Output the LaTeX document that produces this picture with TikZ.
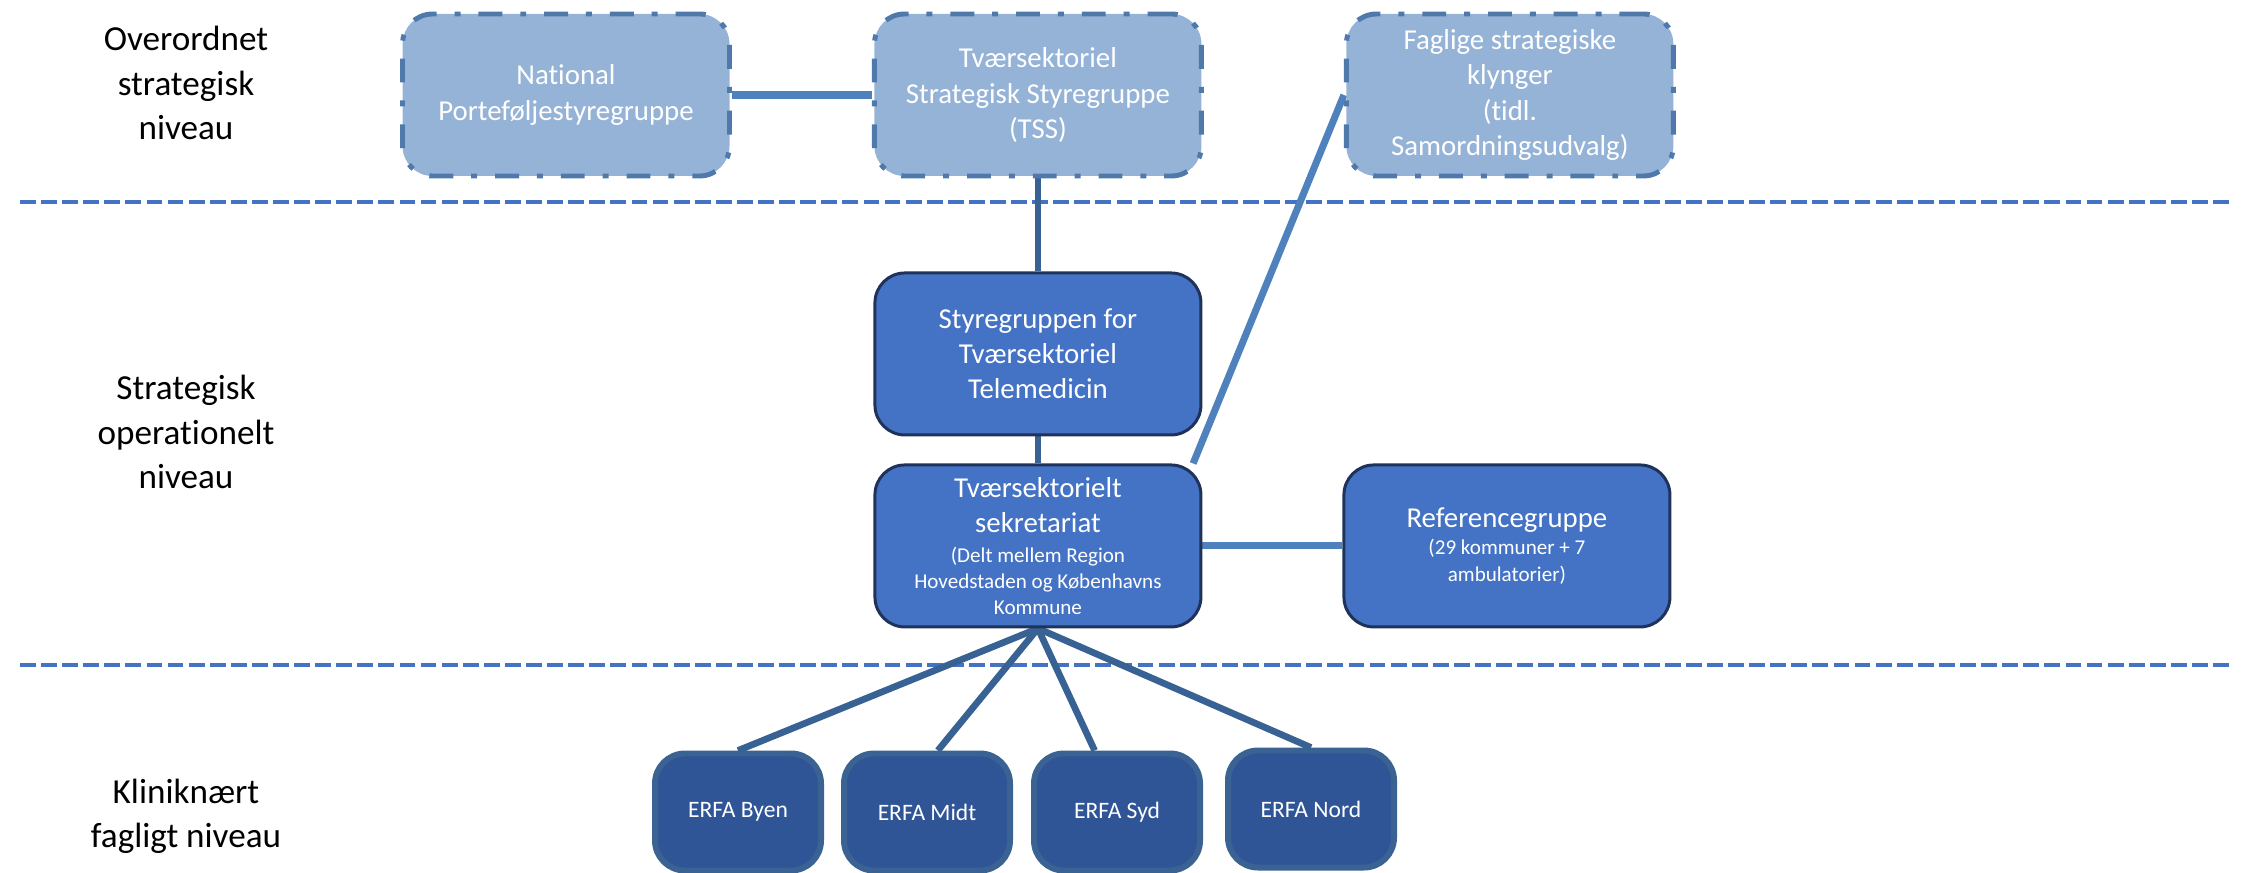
\documentclass[tikz,border=0pt]{standalone}
\usepackage{fontspec}
\setmainfont{Carlito}[Ligatures=NoCommon]
\usepackage{tikz}
\usetikzlibrary{positioning, calc, backgrounds}
\definecolor{skilleblaa}{RGB}{68,114,196}
\definecolor{topfyld}{RGB}{149,179,215}
\definecolor{topkant}{RGB}{79,121,170}
\definecolor{midfyld}{RGB}{68,114,196}
\definecolor{midkant}{RGB}{30,50,90}
\definecolor{erfafyld}{RGB}{47,85,151}
\definecolor{erfakant}{RGB}{58,98,146}
\definecolor{lysblaa}{RGB}{79,129,189}
\definecolor{moerkblaa}{RGB}{56,98,148}
\newcommand{\lille}{\fontsize{6}{7.5}\selectfont}
\tikzset{
  niveau/.style={align=center, text=black, font=\fontsize{10}{12.6}\selectfont},
  topbox/.style={rectangle, rounded corners=0.3cm, minimum width=3.27cm, minimum height=1.62cm, inner sep=2pt, align=center, text=white, fill=topfyld, draw=topkant, line width=1.4pt, dash pattern=on 6.8pt off 5.1pt on 1.7pt off 5.1pt, font=\fontsize{8.2}{10}\selectfont},
  midbox/.style={rectangle, rounded corners=0.3cm, minimum width=3.26cm, minimum height=1.62cm, inner sep=2pt, align=center, text=white, fill=midfyld, draw=midkant, line width=0.85pt, font=\fontsize{8.2}{10}\selectfont},
  erfabox/.style={rectangle, rounded corners=0.3cm, minimum width=1.66cm, minimum height=1.17cm, align=center, text=white, fill=erfafyld, draw=erfakant, line width=1.7pt, font=\fontsize{6.7}{8}\selectfont},
  skille/.style={skilleblaa, line width=1.4pt, dash pattern=on 4.5pt off 1.5pt},
  forb/.style={lysblaa, line width=2pt},
  forbmoerk/.style={moerkblaa, line width=1.9pt}
}

\begin{document}
\begin{tikzpicture}
    \useasboundingbox (0,0) rectangle (22.44,-8.72);

    % Niveauer i venstre side
    \node[niveau] (niv1) at (1.86,-0.83) {Overordnet\\strategisk\\niveau};
    \node[niveau] (niv2) at (1.86,-4.32) {Strategisk\\operationelt\\niveau};
    \node[niveau] (niv3) at (1.86,-8.16) {Kliniknært\\fagligt niveau};

    % Overordnet niveau
    \node[topbox] (npg) at (5.66,-0.95) {National\\Porteføljestyregruppe};
    \node[topbox, right=1.40cm of npg] (tss) {Tværsektoriel\\Strategisk Styregruppe\\(TSS)};
    \node[topbox, right=1.40cm of tss] (fsk) {Faglige strategiske\\klynger\\(tidl.\\Samordningsudvalg)};

    % Strategisk operationelt niveau
    \node[midbox, below=0.93cm of tss] (styr) {Styregruppen for\\Tværsektoriel\\Telemedicin};
    \node[midbox, below=0.27cm of styr] (sekr) {Tværsektorielt\\sekretariat\\[-1.5pt]\lille (Delt mellem Region\\[-2.5pt]\lille Hovedstaden og Københavns\\[-2.5pt]\lille Kommune};
    \node[midbox, right=1.40cm of sekr] (ref) {Referencegruppe\\[-2.3pt]\lille (29 kommuner + 7\\[-2.5pt]\lille ambulatorier)};

    % ERFA-grupper
    \node[erfabox] (byen) at (7.38,-8.12) {ERFA Byen};
    \node[erfabox] (midt) at (9.27,-8.12) {ERFA Midt};
    \node[erfabox] (syd) at (11.17,-8.12) {ERFA Syd};
    \node[erfabox] (nord) at (13.11,-8.09) {ERFA Nord};

    \begin{pgfonlayer}{background}
        % Skillelinjer
        \draw[skille] (0.20,-2.02) -- (22.32,-2.02);
        \draw[skille] (0.20,-6.65) -- (22.32,-6.65);

        % Forbindelser
        \draw[forb] (npg.east) -- (tss.west);
        \draw[forbmoerk] (tss.south) -- (styr.north);
        \draw[forbmoerk] (styr.south) -- (sekr.north);
        \draw[forb] (sekr.28) -- (fsk.west);
        \draw[forb] (sekr.east) -- (ref.west);
        \draw[forbmoerk] (sekr.south) -- (byen.north);
        \draw[forbmoerk] (sekr.south) -- (midt.80);
        \draw[forbmoerk] (sekr.south) -- (syd.110);
        \draw[forbmoerk] (sekr.south) -- (nord.north);
    \end{pgfonlayer}
\end{tikzpicture}
\end{document}
